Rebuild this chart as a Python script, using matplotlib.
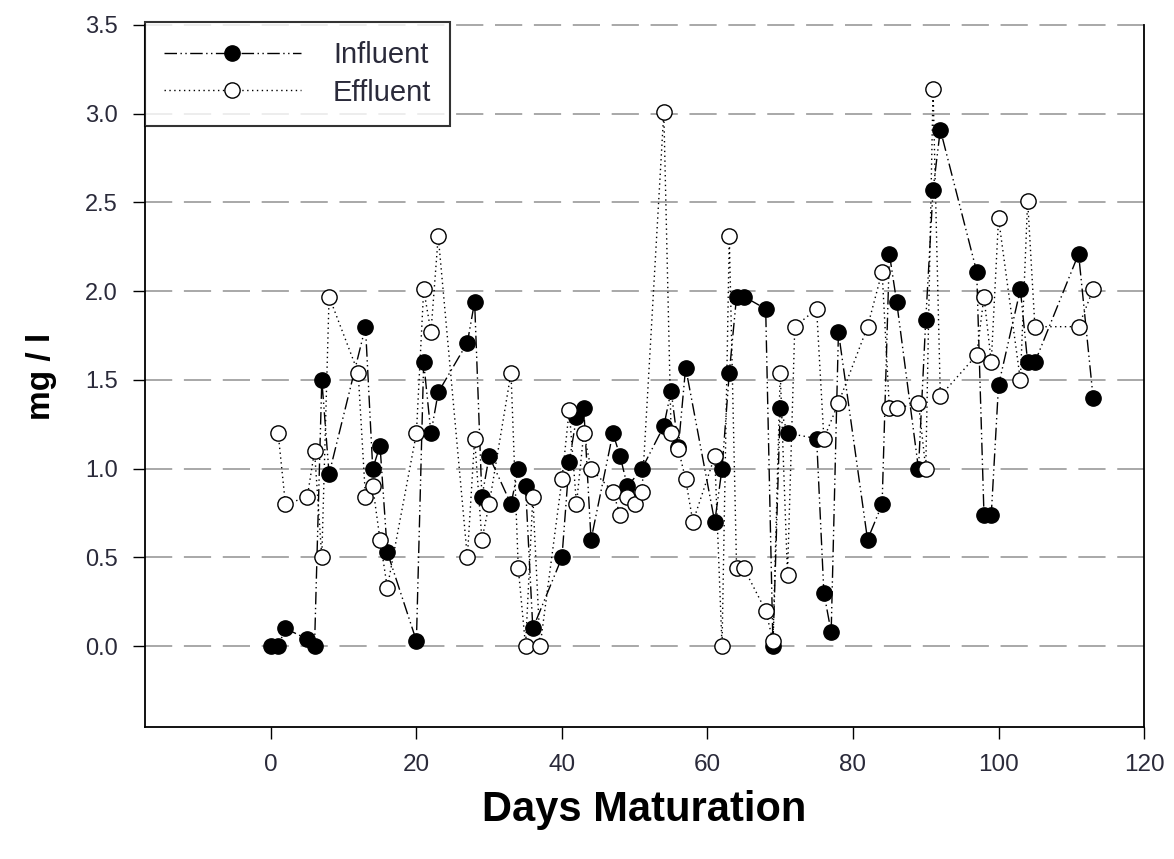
import numpy as np
import matplotlib
matplotlib.use("Agg")
import matplotlib.pyplot as plt

# days and concentrations (mg/l)
influent_days = [0, 1, 2, 5, 6, 7, 8, 13, 14, 15, 16, 20, 21, 22, 23, 27, 28, 29, 30,
                 33, 34, 35, 36, 40, 41, 42, 43, 44, 47, 48, 49, 51, 54, 55, 56, 57,
                 61, 62, 63, 64, 65, 68, 69, 70, 71, 75, 76, 77, 78, 82, 84, 85, 86,
                 89, 90, 91, 92, 97, 98, 99, 100, 103, 104, 105, 111, 113]
influent_vals = [0.0, 0.0, 0.10, 0.04, 0.0, 1.50, 0.97, 1.80, 1.00, 1.13, 0.53, 0.03,
                 1.60, 1.20, 1.43, 1.71, 1.94, 0.84, 1.07,
                 0.80, 1.00, 0.90, 0.10, 0.50, 1.04, 1.29, 1.34, 0.60, 1.20, 1.07, 0.90,
                 1.00, 1.24, 1.44, 1.12, 1.57,
                 0.70, 1.00, 1.54, 1.97, 1.97, 1.90, 0.0, 1.34, 1.20, 1.17, 0.30, 0.08,
                 1.77, 0.60, 0.80, 2.21, 1.94,
                 1.00, 1.84, 2.57, 2.91, 2.11, 0.74, 0.74, 1.47, 2.01, 1.60, 1.60, 2.21,
                 1.40]

effluent_days = [1, 2, 5, 6, 7, 8, 12, 13, 14, 15, 16, 20, 21, 22, 23, 27, 28, 29, 30,
                 33, 34, 35, 36, 37, 40, 41, 42, 43, 44, 47, 48, 49, 50, 51, 54, 55, 56,
                 57, 58, 61, 62, 63, 64, 65, 68, 69, 70, 71, 72, 75, 76, 78, 82, 84, 85,
                 86, 89, 90, 91, 92, 97, 98, 99, 100, 103, 104, 105, 111, 113]
effluent_vals = [1.20, 0.80, 0.84, 1.10, 0.50, 1.97, 1.54, 0.84, 0.90, 0.60, 0.33, 1.20,
                 2.01, 1.77, 2.31, 0.50, 1.17, 0.60, 0.80,
                 1.54, 0.44, 0.0, 0.84, 0.0, 0.94, 1.33, 0.80, 1.20, 1.00, 0.87, 0.74,
                 0.84, 0.80, 0.87, 3.01, 1.20, 1.11,
                 0.94, 0.70, 1.07, 0.0, 2.31, 0.44, 0.44, 0.20, 0.03, 1.54, 0.40, 1.80,
                 1.90, 1.17, 1.37, 1.80, 2.11, 1.34,
                 1.34, 1.37, 1.00, 3.14, 1.41, 1.64, 1.97, 1.60, 2.41, 1.50, 2.51, 1.80,
                 1.80, 2.01]

y_ticks = np.arange(0.0, 3.51, 0.5)
x_ticks = [0, 20, 40, 60, 80, 100, 120]


def main() -> None:
    plt.rcParams['font.family'] = ['Liberation Sans', 'DejaVu Sans']

    fig = plt.figure(figsize=(11.74, 8.59), dpi=100)
    ax = fig.add_axes([0.1235, 0.1537, 0.851, 0.8173])

    # horizontal dashed grid
    for yv in y_ticks:
        ax.axhline(yv, color="#a8a8a8", lw=1.4, dashes=(14, 6), zorder=0, clip_on=False)

    ax.plot(influent_days, influent_vals, color="black", lw=1.0,
            dashes=(9, 2.5, 1, 2.5, 1, 2.5), marker="o", markersize=11,
            markerfacecolor="black", markeredgecolor="black", label="Influent", zorder=3)
    ax.plot(effluent_days, effluent_vals, color="black", lw=1.0,
            dashes=(1, 2.5), marker="o", markersize=11,
            markerfacecolor="white", markeredgecolor="black", markeredgewidth=1.0,
            label="Effluent", zorder=4)

    ax.set_xlim(-17.3, 120)
    ax.set_ylim(-0.455, 3.5)
    ax.set_xticks(x_ticks)
    ax.set_yticks(y_ticks)
    ax.set_yticklabels([f"{v:.1f}" for v in y_ticks], fontsize=17, color="#2a2a3a")
    ax.set_xticklabels([str(v) for v in x_ticks], fontsize=17.5, color="#2a2a3a")
    ax.tick_params(direction="out", length=8.5, width=1.0, pad=11)

    ax.spines["top"].set_visible(False)
    for side in ("left", "bottom", "right"):
        ax.spines[side].set_linewidth(1.3)

    ax.set_xlabel("Days Maturation", fontsize=30, fontweight="bold", labelpad=10)
    ax.set_ylabel("mg / l", fontsize=24, fontweight="bold", labelpad=20)

    leg = ax.legend(loc="upper left", bbox_to_anchor=(0.0, 1.004), borderaxespad=0,
                    fontsize=21, handlelength=4.7, handletextpad=1.1, borderpad=0.65,
                    labelspacing=0.33, fancybox=False, frameon=True)
    leg.get_frame().set_edgecolor("black")
    leg.get_frame().set_linewidth(1.5)
    for t in leg.get_texts():
        t.set_color("#2a2a3a")

    fig.savefig("out.png", dpi=100)
    plt.close(fig)


if __name__ == '__main__':
    main()
